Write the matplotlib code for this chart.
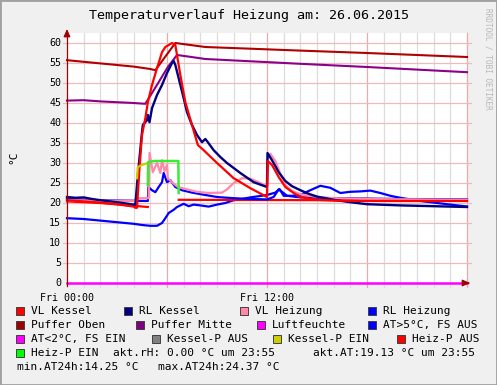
import matplotlib
matplotlib.use("Agg")
import matplotlib.pyplot as plt
from matplotlib.patches import Rectangle

W, H = 497, 385

# ---- data (hours since Fri 00:00, degC) ----
vlk_t = [0, 1, 2, 3, 4, 4.1, 4.2, 4.35, 4.5, 4.7, 4.85, 5.1, 5.4, 5.7, 5.9, 6.3, 6.5, 6.6, 6.8, 7.1, 7.5,
         7.85, 8.2, 9, 10, 11, 12, 12.05, 12.3, 12.7, 13.1, 13.6, 14, 15, 16, 18, 20, 22, 24]
vlk_v = [20.7, 20.4, 20.1, 19.7, 19.1, 18.8, 18.8, 28.7, 37, 41.2, 45.2, 49.5, 53.7, 57.7, 59, 60, 59.5, 57, 52, 45.2, 39.5,
         34.5, 33.2, 30, 26.2, 23.7, 21.5, 30.5, 29.5, 26.5, 24, 22.5, 21.5, 20.8, 20.6, 20.5, 20.5, 20.5, 20.5]

rlk_t = [0, 0.5, 1, 1.5, 2, 3, 4, 4.1, 4.25, 4.5, 4.55, 4.8, 4.85, 4.95, 5.1, 5.4, 5.7, 6.0, 6.3, 6.4, 6.5,
         6.7, 7.0, 7.2, 7.5, 7.8, 8.1, 8.3, 8.45, 8.8, 9.2, 9.6, 10.4, 11.2, 12.0,
         12.03, 12.3, 12.7, 13.1, 13.5, 14, 14.5, 15, 16, 17, 18, 20, 22, 24]
rlk_v = [21.5, 21.3, 21.4, 21.0, 20.7, 20.2, 19.6, 19.5, 27, 37.7, 39.5, 40.7, 42, 40.2, 43.7, 47, 49.5, 52.5, 55, 55.5, 54.5,
         51.2, 46.2, 42.7, 39.5, 37, 35.2, 36, 35.2, 33.2, 31.5, 30, 27.5, 25.2, 24,
         32.5, 30.7, 27.7, 25.5, 24.2, 23.2, 22.3, 21.6, 20.8, 20.2, 19.7, 19.4, 19.2, 19.0]

vlh_t = [0, 4.1, 4.2, 4.9, 4.95, 5.15, 5.4, 5.6, 5.7, 5.85, 6.0, 6.05, 6.35, 6.65, 7.2, 7.8, 8.5, 9.3,
         9.6, 10.0, 10.5, 11.0, 11.5, 12.0, 12.05, 12.2, 12.5, 12.8, 13.1, 13.5, 14, 15, 16, 18, 24]
vlh_v = [20.7, 20.5, 21.2, 21.2, 32.5, 27.7, 30, 27.5, 30.7, 28, 29.5, 26.2, 25, 24, 23.4, 22.8, 22.5, 22.6,
         23.4, 25, 26.2, 26.1, 25.2, 24.1, 31, 32.3, 30.5, 27.3, 24.5, 23, 22.2, 21.5, 21.2, 21, 20.8]

rlh_t = [0, 2, 4.85, 4.88, 5.1, 5.3, 5.5, 5.7, 5.8, 6.0, 6.2, 6.5, 6.9, 7.5, 8.3, 9, 10, 11, 12,
         12.4, 12.7, 12.9, 13.2, 14, 16, 20, 24]
rlh_v = [21, 20.7, 20.5, 24, 23.2, 22.7, 24, 25.2, 27.5, 25.2, 25.7, 24, 23.2, 22.6, 22, 21.5, 21.2, 21, 20.9,
         21.5, 23.4, 22.8, 21.8, 21.4, 21.2, 21.0, 20.9]

at_t = [0, 1, 2, 3, 4, 4.5, 5, 5.4, 5.7, 5.9, 6.1, 6.4, 6.6, 7.0, 7.3, 7.6, 8, 8.5, 9, 9.5, 10, 10.5, 11, 11.5,
        12, 12.5, 12.75, 13.0, 13.5, 14, 14.6, 15.2, 15.8, 16.4, 17, 17.6, 18.2, 18.8, 19.4, 20, 21, 22, 23, 24]
at_v = [16.2, 16.0, 15.6, 15.2, 14.8, 14.5, 14.3, 14.3, 15, 16.2, 17.5, 18.3, 19, 19.8, 19.2, 19.6, 19.4, 19.1, 19.6, 20, 20.7, 21, 21.4, 21.7,
        22, 22.6, 23.5, 21.8, 21.8, 22, 23.2, 24.3, 23.8, 22.5, 22.8, 22.9, 23.1, 22.5, 21.8, 21.3, 20.6, 20.1, 19.6, 19.13]

po_t = [0, 1, 2, 3, 4, 5, 5.3, 5.9, 6.5, 8.3, 14, 18, 24]
po_v = [55.7, 55.3, 54.9, 54.5, 54.1, 53.5, 53.2, 56.6, 60.0, 59.0, 58.1, 57.5, 56.5]

pm_t = [0, 1, 2, 3, 4, 4.7, 5.5, 6.05, 6.6, 7.3, 8.3, 14, 18, 24]
pm_v = [45.6, 45.7, 45.4, 45.2, 45.0, 44.8, 50.2, 54.0, 57.0, 56.6, 56.0, 54.8, 54.0, 52.7]

hp_aus_t = [0, 2, 4, 4.85, None, 6.7, 24]
hp_aus_v = [20.4, 20.0, 19.3, 19.0, None, 20.8, 20.6]
hp_ein_t = [4.85, 4.87, 5.2, 6.0, 6.68, 6.7]
hp_ein_v = [24.5, 30.2, 30.5, 30.5, 30.5, 22.5]
kp_ein_t = [4.2, 4.25, 4.5, 4.85]
kp_ein_v = [26.2, 29.0, 29.5, 30.0]
rh_t = [0, 24]
rh_v = [0, 0]

yticks = [0, 5, 10, 15, 20, 25, 30, 35, 40, 45, 50, 55, 60]
xlabels = {0: "Fri 00:00", 12: "Fri 12:00"}

legend_rows = [
    [(16, "#FF0000", "VL Kessel"), (124, "#000080", "RL Kessel"), (240, "#FF88A8", "VL Heizung"), (368, "#0000FF", "RL Heizung")],
    [(16, "#A00000", "Puffer Oben"), (136, "#800080", "Puffer Mitte"), (257, "#FF00FF", "Luftfeuchte"), (368, "#0000FF", "AT>5°C, FS AUS")],
    [(16, "#FF00FF", "AT<2°C, FS EIN"), (152, "#808080", "Kessel-P AUS"), (273, "#CCCC00", "Kessel-P EIN"), (397, "#FF0000", "Heiz-P AUS")],
]

MONO = "DejaVu Sans Mono"

def fx(x):
    return x / W

def fy(y):
    return 1 - y / H

fig = plt.figure(figsize=(W / 100, H / 100), dpi=100, facecolor="#F0F0F0")
ax = fig.add_axes([fx(67), fy(283), (467 - 67) / W, (283 - 33) / H])
ax.set_facecolor("white")
ax.set_xlim(0, 24)
ax.set_ylim(0, 62.5)
for s in ax.spines.values():
    s.set_visible(False)
ax.set_xticks([])
ax.set_yticks([])

# grid
for h in range(1, 25):
    major = h % 6 == 0
    ax.axvline(h, color="#F2A8A8" if major else "#DDDDDD", lw=0.9, zorder=1, ymin=-0.015, clip_on=False)
for v in yticks[1:]:
    ax.plot([-0.25, 24.25], [v, v], color="#EDBBBB", lw=0.9, zorder=1, clip_on=False)

def line(t, v, c, lw=1.6, z=3, a=1.0):
    tt = [float("nan") if x is None else x for x in t]
    vv = [float("nan") if x is None else x for x in v]
    ax.plot(tt, vv, color=c, lw=lw, zorder=z, alpha=a, solid_joinstyle="round", clip_on=False)

line(po_t, po_v, "#B00000", 1.5)
line(pm_t, pm_v, "#8B008B", 1.5)
line(at_t, at_v, "#0000FF", 1.6)
line(hp_aus_t, hp_aus_v, "#FF0000", 1.6)
line(rlh_t, rlh_v, "#0000FF", 1.6)
line(vlh_t, vlh_v, "#FF88A8", 1.6)
line(rlk_t, rlk_v, "#000080", 1.7)
line(vlk_t, vlk_v, "#FF0000", 1.6)
line(kp_ein_t, kp_ein_v, "#CCCC00", 1.6)
line(hp_ein_t, hp_ein_v, "#33EE33", 1.8)
line(rh_t, rh_v, "#FF00FF", 1.8, z=5)

# axes with arrows
ax.plot([0, 0], [-0.8, 62.5], color="#A00000", lw=0.9, zorder=6, clip_on=False)
ax.annotate("", xy=(24.35, 0), xytext=(23.9, 0), annotation_clip=False, zorder=7,
            arrowprops=dict(arrowstyle="-|>,head_length=0.45,head_width=0.2", color="#A00000", lw=0.9))
ax.annotate("", xy=(0, 64.2), xytext=(0, 62), annotation_clip=False, zorder=7,
            arrowprops=dict(arrowstyle="-|>,head_length=0.45,head_width=0.2", color="#A00000", lw=0.9))

for v in yticks:
    ax.text(-0.35, v, str(v), ha="right", va="center", fontsize=7.2, family=MONO)
for h, lab in xlabels.items():
    ax.text(h, -2.6, lab, ha="center", va="top", fontsize=7.2, family=MONO)

fig.text(fx(249), fy(16), "Temperaturverlauf Heizung am: 26.06.2015", ha="center", va="center",
         fontsize=9.6, family=MONO)
fig.text(fx(13), fy(157), "°C", rotation=90, ha="center", va="center", fontsize=8, family=MONO)
fig.text(fx(488), fy(8), "RRDTOOL / TOBI OETIKER", rotation=270, ha="center", va="top",
         fontsize=5.6, family=MONO, color="#B8B8B8")

def square(x, y, c):
    fig.patches.append(Rectangle((fx(x), fy(y + 4)), 8 / W, 8 / H, transform=fig.transFigure,
                                 facecolor=c, edgecolor="#404040", lw=0.7))

def ltext(x, y, s):
    fig.text(fx(x), fy(y), s, ha="left", va="center", fontsize=8, family=MONO)

rows_y = [311, 325, 339, 353, 367]
for row, y in zip(legend_rows, rows_y):
    for x, c, lab in row:
        square(x, y, c)
        ltext(x + 15, y, lab)
square(16, 353, "#00FF00")
ltext(31, 353, "Heiz-P EIN")
ltext(113, 353, "akt.rH: 0.00 °C um 23:55")
ltext(313, 353, "akt.AT:19.13 °C um 23:55")
ltext(17, 367, "min.AT24h:14.25 °C")
ltext(158, 367, "max.AT24h:24.37 °C")

# frame
fig.patches.append(Rectangle((0, 0), 1, 1, transform=fig.transFigure, fill=False, edgecolor="#A0A0A0", lw=2))

fig.savefig("out.png", dpi=100, facecolor=fig.get_facecolor())
